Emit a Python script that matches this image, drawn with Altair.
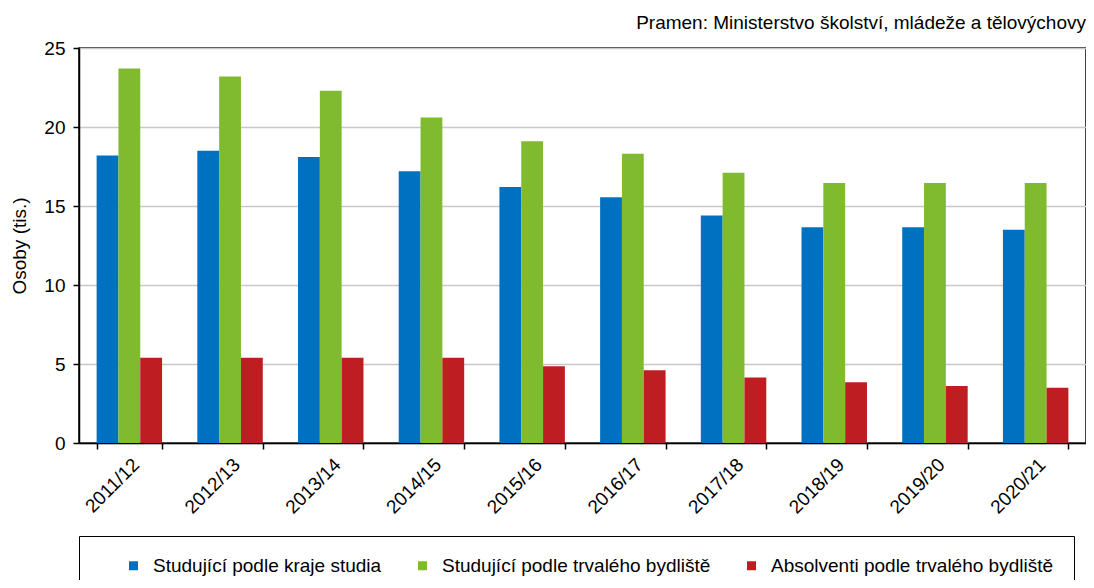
import altair as alt
import pandas as pd

years = ["2011/12", "2012/13", "2013/14", "2014/15", "2015/16",
         "2016/17", "2017/18", "2018/19", "2019/20", "2020/21"]
series = ["Studující podle kraje studia",
          "Studující podle trvalého bydliště",
          "Absolventi podle trvalého bydliště"]
kraj = [18.2, 18.5, 18.1, 17.2, 16.2, 15.55, 14.4, 13.65, 13.65, 13.5]
bydliste = [23.7, 23.2, 22.3, 20.6, 19.1, 18.3, 17.1, 16.45, 16.45, 16.45]
absolventi = [5.4, 5.4, 5.4, 5.4, 4.85, 4.6, 4.15, 3.85, 3.6, 3.5]
colors = ["#0070C0", "#80BA2E", "#BE1E22"]
y_ticks = [0, 5, 10, 15, 20, 25]

rows = []
for s, vals in zip(series, [kraj, bydliste, absolventi]):
    for yr, v in zip(years, vals):
        rows.append({"rok": yr, "serie": s, "hodnota": v})
df = pd.DataFrame(rows)

FONT = "Liberation Sans"
FS = 19

chart = alt.Chart(df).mark_bar().encode(
    x=alt.X("rok:N", sort=years,
            scale=alt.Scale(paddingInner=0.35, paddingOuter=0.175),
            axis=alt.Axis(title=None, labelAngle=-45, tickBand="extent",
                          labelFontSize=FS, labelFont=FONT, labelColor="black",
                          tickColor="black", tickSize=6, tickWidth=1.5,
                          domainColor="black", domainWidth=1.5,
                          labelPadding=6, grid=False)),
    xOffset=alt.XOffset("serie:N", sort=series,
                        scale=alt.Scale(paddingInner=0, paddingOuter=0)),
    y=alt.Y("hodnota:Q", scale=alt.Scale(domain=[0, 25], nice=False),
            axis=alt.Axis(title="Osoby (tis.)", values=y_ticks,
                          labelFontSize=FS, labelFont=FONT, labelColor="black",
                          titleFontSize=FS, titleFont=FONT, titleFontWeight="normal",
                          titleColor="black", titlePadding=14,
                          tickColor="black", tickSize=6, tickWidth=1.5,
                          domainColor="black", domainWidth=1.5, labelPadding=8,
                          grid=True, gridColor="#c8c8c8", gridWidth=1.5)),
    color=alt.Color("serie:N", sort=series,
                    scale=alt.Scale(domain=series, range=colors),
                    legend=alt.Legend(orient="none", legendX=0, legendY=488,
                                      direction="horizontal",
                                      strokeColor="black", fillColor="white",
                                      padding=20, columnPadding=31,
                                      symbolType="square", symbolSize=81,
                                      symbolStrokeWidth=0,
                                      labelFontSize=FS, labelFont=FONT,
                                      labelColor="black", labelOffset=10,
                                      labelLimit=0,
                                      title=" ", titleOrient="left",
                                      titlePadding=25, titleFontSize=14)),
).properties(
    width=1007,
    height=395,
    padding={"left": 71, "top": 40, "right": 0, "bottom": 137},
    autosize=alt.AutoSizeParams(type="none"),
    title=alt.TitleParams("Pramen: Ministerstvo školství, mládeže a tělovýchovy",
                          anchor="end", frame="group", fontSize=FS,
                          fontWeight="normal", font=FONT, color="black",
                          offset=6),
).configure_view(
    stroke="black", strokeWidth=1.5
)

chart.save("out.html", embed_options={"renderer": "svg", "actions": False})
